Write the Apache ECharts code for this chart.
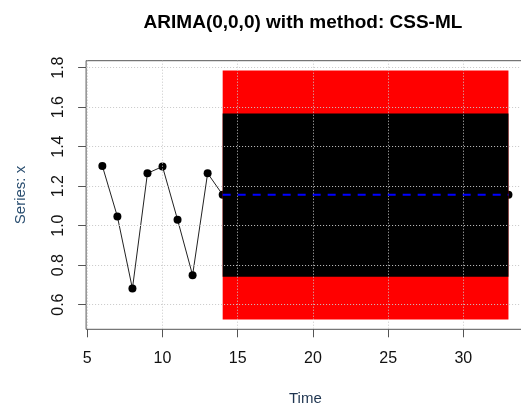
<!DOCTYPE html>
<html>
<head>
<meta charset="utf-8">
<script src="https://cdn.jsdelivr.net/npm/echarts@6/dist/echarts.min.js"></script>
<style>html,body{margin:0;padding:0;background:#fff;}#c{width:521px;height:406px;}</style>
</head>
<body>
<div id="c"></div>
<script>
// Observed series
var obsTime = [6, 7, 8, 9, 10, 11, 12, 13];
var obsValues = [1.302, 1.046, 0.681, 1.265, 1.299, 1.030, 0.749, 1.265];
// Forecast horizon
var fcTime = [14, 15, 16, 17, 18, 19, 20, 21, 22, 23, 24, 25, 26, 27, 28, 29, 30, 31, 32, 33];
var fcMean = [1.156, 1.156, 1.156, 1.156, 1.156, 1.156, 1.156, 1.156, 1.156, 1.156, 1.156, 1.156, 1.156, 1.156, 1.156, 1.156, 1.156, 1.156, 1.156, 1.156];
var lo80 = [0.741, 0.741, 0.741, 0.741, 0.741, 0.741, 0.741, 0.741, 0.741, 0.741, 0.741, 0.741, 0.741, 0.741, 0.741, 0.741, 0.741, 0.741, 0.741, 0.741];
var hi80 = [1.568, 1.568, 1.568, 1.568, 1.568, 1.568, 1.568, 1.568, 1.568, 1.568, 1.568, 1.568, 1.568, 1.568, 1.568, 1.568, 1.568, 1.568, 1.568, 1.568];
var lo95 = [0.525, 0.525, 0.525, 0.525, 0.525, 0.525, 0.525, 0.525, 0.525, 0.525, 0.525, 0.525, 0.525, 0.525, 0.525, 0.525, 0.525, 0.525, 0.525, 0.525];
var hi95 = [1.785, 1.785, 1.785, 1.785, 1.785, 1.785, 1.785, 1.785, 1.785, 1.785, 1.785, 1.785, 1.785, 1.785, 1.785, 1.785, 1.785, 1.785, 1.785, 1.785];
// Tick labels
var xTicks = [5, 10, 15, 20, 25, 30];
var yTicks = [0.6, 0.8, 1.0, 1.2, 1.4, 1.6, 1.8];

function pairs(xs, ys) { return xs.map(function (x, i) { return [x, ys[i]]; }); }
// one polygon per band, built from the arrays through the axis scales
function bandRender(lo, hi, color) {
  return function (params, api) {
    var pts = [];
    for (var i = 0; i < fcTime.length; i++) pts.push(api.coord([fcTime[i], hi[i]]));
    for (var j = fcTime.length - 1; j >= 0; j--) pts.push(api.coord([fcTime[j], lo[j]]));
    return { type: 'polygon', shape: { points: pts }, style: { fill: color } };
  };
}

var chart = echarts.init(document.getElementById('c'), null, { renderer: 'canvas' });
var labFont = 'Liberation Sans, Arial, sans-serif';
var gridLine = { show: true, lineStyle: { color: '#c8c8c8', type: [1, 2], width: 1 } };

chart.setOption({
  animation: false,
  backgroundColor: '#ffffff',
  title: {
    text: 'ARIMA(0,0,0) with method: CSS-ML',
    left: 298, top: 8, textAlign: 'center',
    textStyle: { fontFamily: labFont, fontSize: 19, fontWeight: 'bold', color: '#000' }
  },
  grid: { left: 86.1, top: 60.7, width: 438.6, height: 268.6, outerBoundsMode: 'none', containLabel: false,
    show: true, borderColor: '#555', borderWidth: 1, backgroundColor: 'transparent' },
  xAxis: {
    type: 'value', min: 4.92, max: 34.08, z: 3,
    name: 'Time', nameLocation: 'middle', nameGap: 62,
    nameTextStyle: { fontFamily: labFont, fontSize: 15, color: '#1f3550' },
    axisLine: { show: false },
    axisTick: { show: true, customValues: xTicks, length: 8, lineStyle: { color: '#555' } },
    axisLabel: { customValues: xTicks, margin: 21, fontFamily: labFont, fontSize: 16, color: '#111' },
    splitLine: gridLine
  },
  yAxis: {
    type: 'value', min: 0.475, max: 1.835, z: 3,
    name: 'Series: x', nameLocation: 'middle', nameGap: 58, nameRotate: 90,
    nameTextStyle: { fontFamily: labFont, fontSize: 15, color: '#2a4e70' },
    axisLine: { show: false },
    axisTick: { show: true, customValues: yTicks, length: 8, lineStyle: { color: '#555' } },
    axisLabel: { customValues: yTicks, rotate: 90, margin: 20, fontFamily: labFont, fontSize: 16, color: '#111',
      formatter: function (v) { return v.toFixed(1); } },
    splitLine: gridLine
  },
  series: [
    {
      type: 'line', z: 1,
      data: pairs(obsTime.concat(fcTime), obsValues.concat(fcMean)),
      symbol: 'circle', symbolSize: 8, showSymbol: true,
      itemStyle: { color: '#000' },
      lineStyle: { color: '#222', width: 1 }
    },
    { type: 'custom', z: 2, renderItem: bandRender(lo95, hi95, '#ff0000'), data: [[fcTime[0], lo95[0]]] },
    { type: 'custom', z: 2, renderItem: bandRender(lo80, hi80, '#000000'), data: [[fcTime[0], lo80[0]]] },
    {
      type: 'line', z: 5,
      data: pairs(fcTime, fcMean),
      symbol: 'none',
      lineStyle: { color: '#0000ff', width: 2, type: [8, 7] }
    }
  ]
});
</script>
</body>
</html>
